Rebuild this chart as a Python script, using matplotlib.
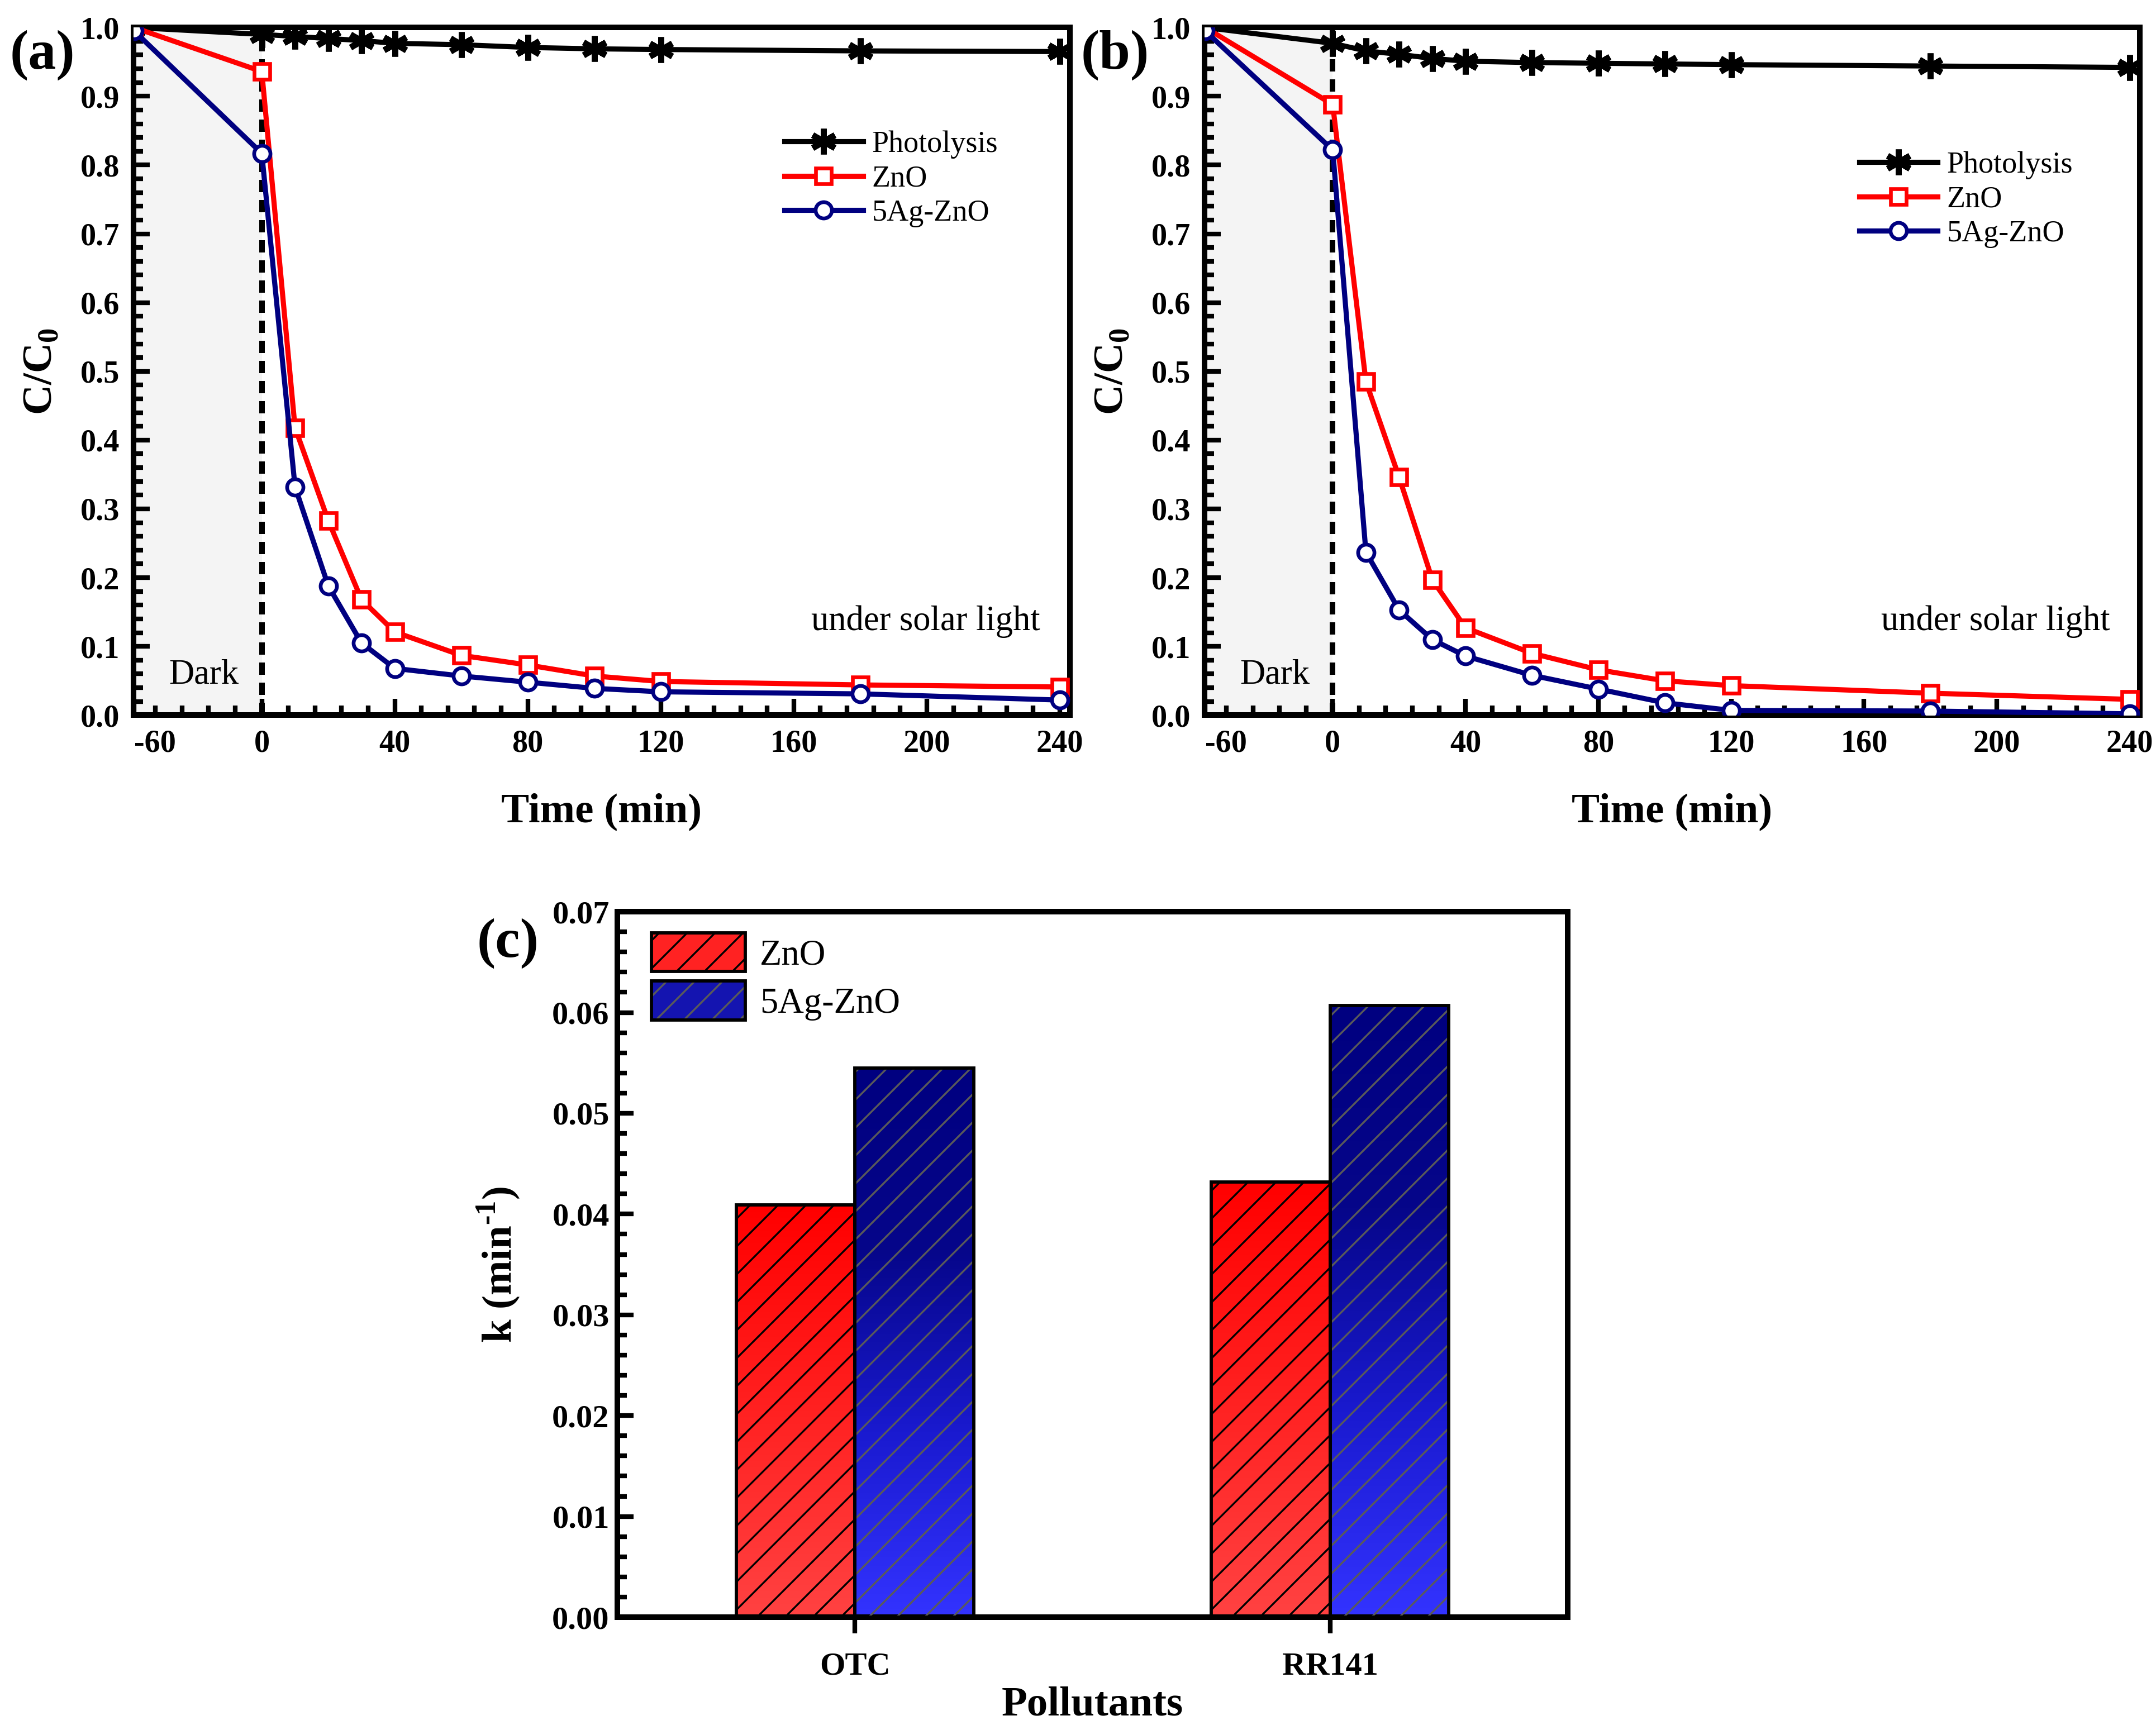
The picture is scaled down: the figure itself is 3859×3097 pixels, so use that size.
import numpy as np
import matplotlib
matplotlib.use("Agg")
import matplotlib.pyplot as plt
from matplotlib.ticker import FixedLocator, MultipleLocator, FormatStrFormatter
from matplotlib.colors import LinearSegmentedColormap
from matplotlib.patches import Patch

plt.rcParams['font.family'] = ['Liberation Serif', 'DejaVu Serif']
plt.rcParams['mathtext.fontset'] = 'custom'
plt.rcParams['mathtext.rm'] = 'Liberation Serif'
plt.rcParams['mathtext.bf'] = 'Liberation Serif:bold'
plt.rcParams['hatch.linewidth'] = 0.8

# time points (min); dark adsorption starts at -60
times = [-60, 0, 10, 20, 30, 40, 60, 80, 100, 120, 180, 240]

# panel (a)
photo_a = [1.0, 0.990, 0.987, 0.984, 0.981, 0.977, 0.975, 0.971, 0.969, 0.968, 0.966, 0.965]
zno_a = [1.0, 0.936, 0.418, 0.283, 0.168, 0.121, 0.087, 0.073, 0.057, 0.049, 0.044, 0.041]
agzno_a = [0.995, 0.817, 0.332, 0.188, 0.105, 0.068, 0.057, 0.048, 0.039, 0.034, 0.031, 0.022]

# panel (b)
photo_b = [1.0, 0.977, 0.966, 0.961, 0.955, 0.951, 0.949, 0.948, 0.947, 0.946, 0.944, 0.942]
zno_b = [1.0, 0.888, 0.485, 0.346, 0.197, 0.127, 0.090, 0.066, 0.050, 0.043, 0.032, 0.023]
agzno_b = [0.995, 0.822, 0.237, 0.153, 0.110, 0.086, 0.058, 0.038, 0.018, 0.007, 0.006, 0.002]

# panel (c) rate constants
pollutants = ["OTC", "RR141"]
k_zno = [0.0409, 0.0432]
k_agzno = [0.0545, 0.0607]


# the dark period is drawn compressed on the time axis
def fwd(t):
    t = np.asarray(t, dtype=float)
    return np.where(t < 0, t * 0.64, t)


def inv(x):
    x = np.asarray(x, dtype=float)
    return np.where(x < 0, x / 0.64, x)


fig = plt.figure(figsize=(3859 / 300, 3097 / 300), dpi=300)

ax_a = fig.add_axes([0.0619, 0.5866, 0.4343, 0.3975])
ax_b = fig.add_axes([0.5587, 0.5866, 0.4337, 0.3975])
ax_c = fig.add_axes([0.2864, 0.0652, 0.4407, 0.4078])

spine_w = 2.4
x_left = -60.3


def kinetics(ax, photo, zno, agzno, leg_anchor, label):
    ax.set_xscale('function', functions=(fwd, inv))
    ax.axvspan(x_left, 0, color='#f4f4f4', lw=0, zorder=0)
    ax.axvline(0, color='black', ls=(0, (2.2, 1.4)), lw=2.4, zorder=1)
    ax.plot(times, photo, color='black', lw=2.2, marker=(6, 2, 0), ms=11, mew=2.6,
            label='Photolysis', zorder=3)
    ax.plot(times, zno, color='#ff0000', lw=2.2, marker='s', ms=6.5, mfc='white',
            mec='#ff0000', mew=1.6, label='ZnO', zorder=4)
    ax.plot(times, agzno, color='#000080', lw=2.2, marker='o', ms=7, mfc='white',
            mec='#000080', mew=1.6, label='5Ag-ZnO', zorder=5)
    ax.set_xlim(x_left, 243)
    ax.set_ylim(0, 1.0)

    ax.xaxis.set_major_locator(FixedLocator([-60, 0, 40, 80, 120, 160, 200, 240]))
    minors = list(inv(-np.arange(8, 33, 8))) + [m for m in range(8, 241, 8) if m % 40]
    ax.xaxis.set_minor_locator(FixedLocator(minors))
    ax.yaxis.set_major_locator(MultipleLocator(0.1))
    ax.yaxis.set_minor_locator(MultipleLocator(0.02))
    ax.yaxis.set_major_formatter(FormatStrFormatter('%.1f'))
    ax.xaxis.set_major_formatter(FormatStrFormatter('%d'))

    ax.tick_params(which='both', direction='in', top=False, right=False, width=2.0)
    ax.tick_params(which='major', length=7, labelsize=13.5, pad=6)
    ax.tick_params(which='minor', length=4)
    for lab in ax.get_xticklabels() + ax.get_yticklabels():
        lab.set_fontweight('bold')
    ax.get_xticklabels()[0].set_horizontalalignment('left')
    for s in ax.spines.values():
        s.set_linewidth(spine_w)

    ax.set_xlabel('Time (min)', fontsize=18, fontweight='bold')
    ax.set_ylabel(r'C/C$_\mathbf{0}$', fontsize=18, fontweight='bold')
    ax.xaxis.set_label_coords(0.5, -0.113)
    ax.yaxis.set_label_coords(-0.078, 0.5)

    ax.text(0.075, 0.058, 'Dark', transform=ax.transAxes, fontsize=15,
            ha='center', va='center')
    ax.text(0.846, 0.136, 'under solar light', transform=ax.transAxes, fontsize=15,
            ha='center', va='center')
    ax.legend(loc='upper left', bbox_to_anchor=leg_anchor, frameon=False, fontsize=13,
              borderpad=0, handlelength=2.6, handletextpad=0.3, labelspacing=0.2,
              borderaxespad=0)
    ax.text(-0.132, 0.96, label, transform=ax.transAxes, fontsize=24,
            fontweight='bold', ha='left', va='center')


kinetics(ax_a, photo_a, zno_a, agzno_a, (0.695, 0.85), '(a)')
kinetics(ax_b, photo_b, zno_b, agzno_b, (0.70, 0.82), '(b)')

# ---- panel (c): bars with vertical colour gradient and hatch
red_cmap = LinearSegmentedColormap.from_list('r', ['#ff4242', '#ff0000'])
blue_cmap = LinearSegmentedColormap.from_list('b', ['#3333ff', '#1a1ad0', '#06068a', '#000080'])
xpos = np.arange(1, len(pollutants) + 1)
width = 0.25
grad = np.linspace(0, 1, 256).reshape(-1, 1)

for vals, off, cmap, hcol in [(k_zno, -width / 2, red_cmap, 'black'),
                              (k_agzno, width / 2, blue_cmap, '#5a5a5a')]:
    outline = ax_c.bar(xpos + off, vals, width, color='none', edgecolor='black',
                       lw=1.4, zorder=4)
    ax_c.bar(xpos + off, vals, width, color='none', edgecolor=hcol, lw=0,
             hatch='//', zorder=3)
    for bar in outline:
        x0, h = bar.get_x(), bar.get_height()
        im = ax_c.imshow(grad, extent=[x0, x0 + width, 0, h], origin='lower',
                         aspect='auto', cmap=cmap, zorder=2)
        im.set_clip_path(bar)

ax_c.set_xlim(0.5, 2.5)
ax_c.set_ylim(0, 0.07)
ax_c.set_xticks(xpos)
ax_c.set_xticklabels(pollutants)
ax_c.yaxis.set_major_locator(MultipleLocator(0.01))
ax_c.yaxis.set_minor_locator(MultipleLocator(0.002))
ax_c.yaxis.set_major_formatter(FormatStrFormatter('%.2f'))
ax_c.tick_params(axis='y', which='both', direction='in', right=False, width=2.0)
ax_c.tick_params(axis='y', which='major', length=7)
ax_c.tick_params(axis='y', which='minor', length=4)
ax_c.tick_params(axis='x', direction='out', length=7, width=2.0, top=False, pad=8)
ax_c.tick_params(labelsize=14)
for lab in ax_c.get_xticklabels() + ax_c.get_yticklabels():
    lab.set_fontweight('bold')
for s in ax_c.spines.values():
    s.set_linewidth(spine_w)
ax_c.set_xlabel('Pollutants', fontsize=18, fontweight='bold')
ax_c.set_ylabel('k (min$^{\\mathbf{\u2010}\\mathbf{1}}$)', fontsize=18, fontweight='bold')
ax_c.xaxis.set_label_coords(0.5, -0.098)
ax_c.yaxis.set_label_coords(-0.1, 0.5)
ax_c.text(-0.148, 0.955, '(c)', transform=ax_c.transAxes, fontsize=24,
          fontweight='bold', ha='left', va='center')

h_zno = (Patch(facecolor='#ff2222', edgecolor='none'),
         Patch(facecolor='none', edgecolor='black', hatch='//', lw=1.4))
h_ag = (Patch(facecolor='#1414b0', edgecolor='none'),
        Patch(facecolor='none', edgecolor='#5a5a5a', hatch='//', lw=0),
        Patch(facecolor='none', edgecolor='black', lw=1.4))
ax_c.legend([h_zno, h_ag], ['ZnO', '5Ag-ZnO'], loc='upper left',
            bbox_to_anchor=(0.036, 0.97), frameon=False, fontsize=15.5, borderpad=0,
            borderaxespad=0, handlelength=2.6, handleheight=1.27, handletextpad=0.4,
            labelspacing=0.25)

fig.savefig('out.png', dpi=300)
